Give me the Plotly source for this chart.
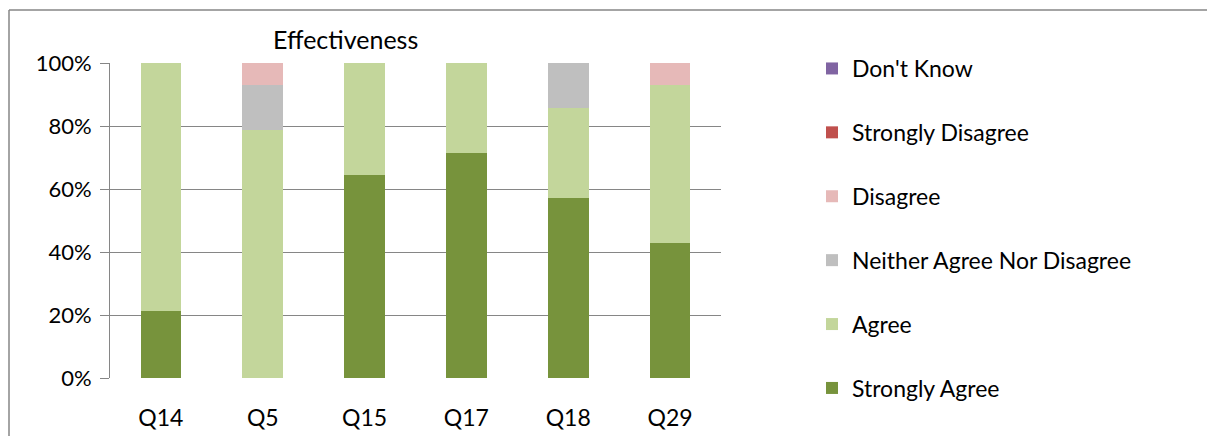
import plotly.graph_objects as go

# Survey responses for the "Effectiveness" questions (percent of respondents)
questions = ["Q14", "Q5", "Q15", "Q17", "Q18", "Q29"]
strongly_agree = [21.4, 0.0, 64.3, 71.4, 57.1, 42.9]
agree = [78.6, 78.6, 35.7, 28.6, 28.6, 50.0]
neither = [0.0, 14.3, 0.0, 0.0, 14.3, 0.0]
disagree = [0.0, 7.1, 0.0, 0.0, 0.0, 7.1]
strongly_disagree = [0.0, 0.0, 0.0, 0.0, 0.0, 0.0]
dont_know = [0.0, 0.0, 0.0, 0.0, 0.0, 0.0]
y_ticks = [0, 20, 40, 60, 80, 100]
y_tick_labels = ["0%", "20%", "40%", "60%", "80%", "100%"]

series = [
    ("Strongly Agree", strongly_agree, "#77933C"),
    ("Agree", agree, "#C3D69B"),
    ("Neither Agree Nor Disagree", neither, "#BFBFBF"),
    ("Disagree", disagree, "#E6B9B8"),
    ("Strongly Disagree", strongly_disagree, "#C0504D"),
    ("Don't Know", dont_know, "#8064A2"),
]

FONT = "Lato, 'Open Sans', sans-serif"
W, H = 1207, 436
L, R, T, B = 110, 721, 63, 378  # plot area in pixels


def px_x(px):
    return (px - L) / (R - L)


def px_y(py):
    return (B - py) / (B - T)


fig = go.Figure()
n = len(series)
for i, (name, vals, color) in enumerate(series):
    fig.add_trace(go.Bar(
        x=questions, y=vals, name=name, legendgroup=name,
        legendrank=n - i,
        marker=dict(color=color, line=dict(width=0)),
        width=0.4,
    ))

fig.update_layout(
    width=W, height=H,
    margin=dict(l=L, r=W - R, t=T, b=H - B, pad=0, autoexpand=False),
    barmode="stack",
    plot_bgcolor="white", paper_bgcolor="white",
    font=dict(family=FONT, size=20, color="#000000"),
    showlegend=True,
    legend=dict(
        x=px_x(812), y=px_y(47), xanchor="left", yanchor="top",
        traceorder="grouped", tracegroupgap=31, maxheight=420,
        font=dict(family=FONT, size=23, color="#000000"),
        itemwidth=30, bgcolor="rgba(0,0,0,0)",
    ),
    xaxis=dict(
        showgrid=False, showline=False, ticks="", automargin=False,
        tickfont=dict(family=FONT, size=23), ticklabelstandoff=24,
    ),
    yaxis=dict(
        range=[0, 100], tickvals=y_ticks, ticktext=y_tick_labels,
        showgrid=True, gridcolor="#868686", gridwidth=1, automargin=False,
        zeroline=False, showline=True, linecolor="#868686", linewidth=1,
        ticks="outside", ticklen=9, tickcolor="#868686",
        tickfont=dict(family=FONT, size=22), ticklabelstandoff=4,
    ),
    annotations=[dict(
        text="Effectiveness", x=px_x(345), y=px_y(39),
        xref="paper", yref="paper", showarrow=False,
        xanchor="center", yanchor="middle",
        font=dict(family=FONT, size=25, color="#000000"),
    )],
    shapes=[
        dict(type="line", xref="paper", yref="paper",
             x0=px_x(9), x1=px_x(W), y0=px_y(10), y1=px_y(10),
             line=dict(color="#868686", width=1.5)),
        dict(type="line", xref="paper", yref="paper",
             x0=px_x(9), x1=px_x(9), y0=px_y(10), y1=px_y(H),
             line=dict(color="#868686", width=1.5)),
    ],
)

fig.write_html("out.html")
